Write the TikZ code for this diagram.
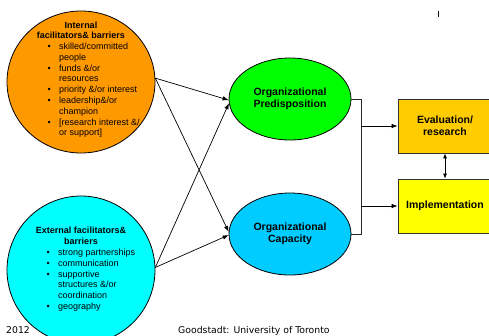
\documentclass[tikz,border=0pt]{standalone}
\usepackage{fontspec}
\setmainfont{Liberation Sans}
\newfontfamily\footfont{DejaVu Sans}
\usetikzlibrary{shapes.geometric,arrows.meta}
\definecolor{orangec}{HTML}{FF9900}
\definecolor{cyanc}{HTML}{00FFFF}
\definecolor{greenc}{HTML}{00FF00}
\definecolor{bluec}{HTML}{00CCFF}
\definecolor{evalc}{HTML}{FFCC00}
\definecolor{implc}{HTML}{FFFF00}
\newcommand{\bul}{\makebox[12pt][l]{\hspace{0.5pt}\textbullet}}
\begin{document}
\begin{tikzpicture}[x=1pt,y=-1pt,
  bigcirc/.style={ellipse,draw=black,line width=0.8pt,inner sep=0pt},
  orgell/.style={ellipse,draw=black,line width=0.8pt,inner sep=0pt,minimum width=122pt,minimum height=82pt,align=center,font=\fontsize{10.5}{12}\selectfont\bfseries},
  outbox/.style={rectangle,draw=black!80,line width=0.8pt,inner sep=0pt,minimum width=94pt,minimum height=54pt,align=center,font=\fontsize{10.5}{12}\selectfont\bfseries},
  ttl/.style={inner sep=0pt,anchor=base,font=\fontsize{9}{10.8}\selectfont\bfseries},
  lst/.style={inner sep=0pt,anchor=base west,font=\fontsize{9}{10.8}\selectfont},
  arr/.style={line width=0.7pt,-{Latex[length=6pt,width=4.5pt]}},
  arrtwo/.style={line width=0.7pt,{Latex[length=5pt,width=4pt]}-{Latex[length=5pt,width=4pt]}},
  conn/.style={line width=0.8pt,draw=black!85},
  foot/.style={inner sep=0pt,anchor=base west,font=\footfont\fontsize{9.3}{11}\selectfont}
]
\useasboundingbox (0,0) rectangle (489,335);
\clip (0,0) rectangle (489,335);
\fill[white] (0,0) rectangle (489,335);

% big circles
\node[bigcirc,fill=orangec,minimum width=148pt,minimum height=142pt] (orange) at (81,82) {};
\node[bigcirc,fill=cyanc,minimum width=148pt,minimum height=148pt] (cyan) at (81,270) {};

% orange texts
\node[ttl] (ortitle) at (81,28) {\begin{tabular}[t]{@{}c@{}}Internal\\ facilitators\& barriers\end{tabular}};
\node[lst] (orlist) at (47,49.5) {\begin{tabular}[t]{@{}l@{}l@{}}
\bul & skilled/committed\\
 & people\\
\bul & funds \&/or\\
 & resources\\
\bul & priority \&/or interest\\
\bul & leadership\&/or\\
 & champion\\
\bul & [research interest \&/\\
 & or support]
\end{tabular}};

% cyan texts
\node[ttl] (cytitle) at (81,233.5) {\begin{tabular}[t]{@{}c@{}}External facilitators\&\\ barriers\end{tabular}};
\node[lst] (cylist) at (46,255.5) {\begin{tabular}[t]{@{}l@{}l@{}}
\bul & strong partnerships\\
\bul & communication\\
\bul & supportive\\
 & structures \&/or\\
 & coordination\\
\bul & geography
\end{tabular}};

% organizational ellipses
\node[orgell,fill=greenc] (green) at (290,99) {Organizational\\Predisposition};
\node[orgell,fill=bluec] (blue) at (290,234) {Organizational\\Capacity};

% output boxes
\node[outbox,fill=evalc] (eval) at (445,126) {Evaluation/\\research};
\node[outbox,fill=implc] (impl) at (445,206) {Implementation};

% crossing arrows
\draw[arr] (orange.3) -- (green.181);
\draw[arr] (orange.3) -- (blue.178);
\draw[arr] (cyan.2) -- (green.184);
\draw[arr] (cyan.2) -- (blue.181);

% bracket connector
\coordinate (j) at (361,99);
\draw[conn] (green.east) -- (j) |- (blue.east);
\draw[arr] (j |- eval.west) -- (eval.west);
\draw[arr] (j |- impl.west) -- (impl.west);
\draw[arrtwo] (eval.south) -- (impl.north);

% small mark
\draw[line width=0.6pt] (438,11) -- (438,17);

% footer
\node[foot] (year) at (6,333.5) {2012};
\node[foot] (credit) at (178,333.5) {Goodstadt: University of Toronto};
\end{tikzpicture}
\end{document}
